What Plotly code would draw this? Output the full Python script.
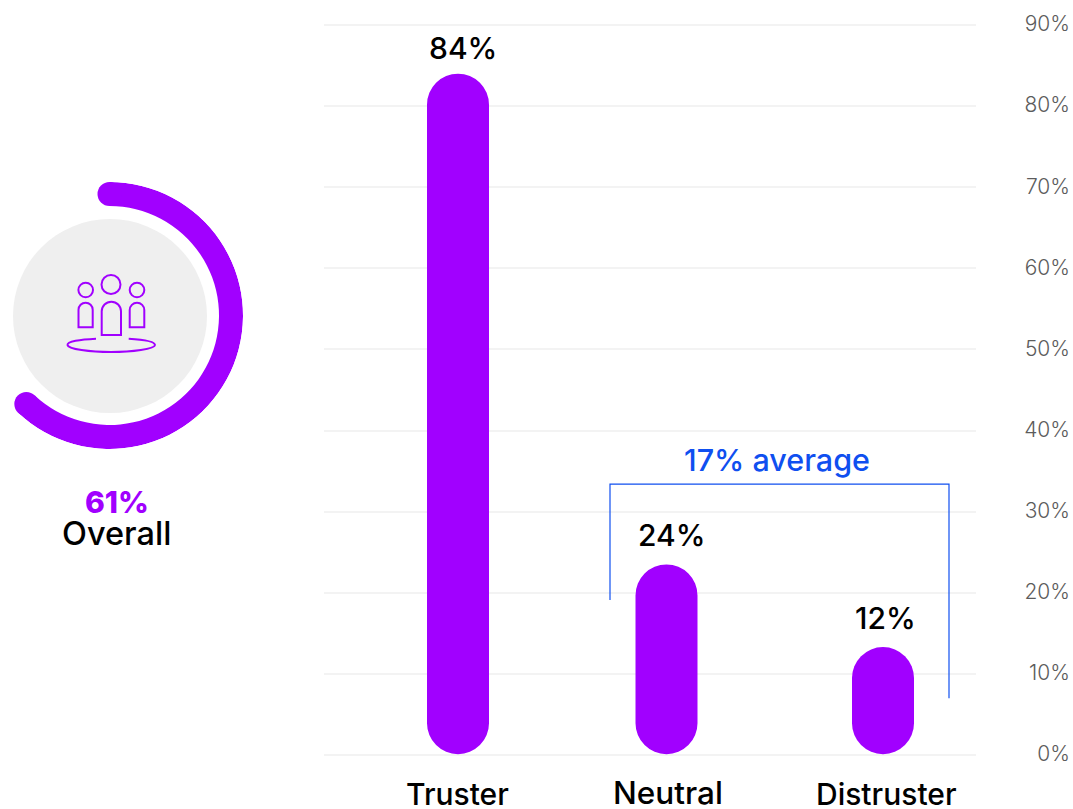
import math
import plotly.graph_objects as go

# ---- data ----
categories = ["Truster", "Neutral", "Distruster"]
bar_heights = [84, 23.5, 13.3]          # drawn heights
value_labels = ["84%", "24%", "12%"]
overall_arc_share = 62                  # drawn length of the arc
overall_label = "61%"
overall_name = "Overall"
average_label = "17% average"
y_ticks = [0, 10, 20, 30, 40, 50, 60, 70, 80, 90]
y_tick_labels = ["0%", "10%", "20%", "30%", "40%", "50%", "60%", "70%", "80%", "90%"]
bracket_y = [19.1, 33.4, 33.4, 7.0]

# ---- layout constants ----
W, H = 1073, 809
PURPLE = "#a100ff"
BLUE = "#0f4ff0"
FONT = "Inter"
bar_x = [458, 666.5, 883]
bracket_x = [610, 610, 949, 949]
X0, X1 = 324, 976
Y_BASE, Y_TOP = 755, 25
Y_PAD = 0.15                            # keeps the end gridlines inside the plot
PX_PER_UNIT = (Y_BASE - Y_TOP) / 90
CX, CY, R_OUT, R_IN = 109.5, 315.5, 133.5, 109.5
BAR_BASE = 0.1

fig = go.Figure()

# Pill bars: a bar off the zero line is rounded at both ends
fig.add_trace(go.Bar(
    x=bar_x, y=[v - BAR_BASE for v in bar_heights], base=[BAR_BASE] * len(bar_heights),
    width=62, marker=dict(color=PURPLE, line_width=0, cornerradius=31),
    hoverinfo="skip", showlegend=False))

# Bracket
fig.add_trace(go.Scatter(x=bracket_x, y=bracket_y, mode="lines",
                         line=dict(color=BLUE, width=1.2), hoverinfo="skip", showlegend=False))
# carrier for the right-hand labelled axis
fig.add_trace(go.Scatter(x=[X0], y=[0], yaxis="y2", mode="markers", marker_opacity=0,
                         hoverinfo="skip", showlegend=False))
# carrier for the pixel axes used by the decoration
fig.add_trace(go.Scatter(x=[0], y=[0], xaxis="x3", yaxis="y3", mode="markers", marker_opacity=0,
                         hoverinfo="skip", showlegend=False))

# Overall arc: a polar bar spanning the overall share of the circle
span = overall_arc_share / 100 * 360
fig.add_trace(go.Barpolar(
    theta=[span / 2], width=[span], base=[R_IN], r=[R_OUT - R_IN],
    marker=dict(color=PURPLE, line_width=0), hoverinfo="skip", showlegend=False))

shapes = []
def circle(cx, cy, r, **kw):
    shapes.append(dict(type="circle", xref="x3", yref="y3", x0=cx - r, x1=cx + r, y0=cy - r, y1=cy + r, **kw))

def outline(path):
    shapes.append(dict(type="path", xref="x3", yref="y3", path=path, layer="above",
                       line=dict(color=PURPLE, width=2)))

# Gray disc and round arc caps
circle(110, 316, 97, fillcolor="#efefef", line_width=0, layer="below")
mid_r = (R_IN + R_OUT) / 2
for a in (0, math.radians(span)):
    circle(CX + mid_r * math.sin(a), CY - mid_r * math.cos(a), (R_OUT - R_IN) / 2,
           fillcolor=PURPLE, line_width=0, layer="above")

# People icon
for cx, cy, r in [(111, 284.5, 9.5), (85.7, 290, 7.3), (137, 290, 7.3)]:
    circle(cx, cy, r, line=dict(color=PURPLE, width=2), layer="above")
for x0, x1, top, bottom in [(78.5, 92.7, 302.7, 327.3), (101.7, 121, 301.7, 335), (129.7, 144.3, 302.7, 327.3)]:
    mid = (x0 + x1) / 2
    k = (x1 - x0) / 2
    outline(f"M{x0},{bottom} L{x0},{top + k} C{x0},{top + k * .45} {mid - k * .55},{top} {mid},{top} "
            f"C{mid + k * .55},{top} {x1},{top + k * .45} {x1},{top + k} L{x1},{bottom} Z")
outline("M96,338.7 C80,339.5 67,341.5 67.5,345 C68,349 90,352 111,352 "
        "C132,352 155,349 155,345 C155,341.5 142,339.5 128.7,338.7")

annotations = []
def text(x, y, s, size=30, color="#000000", weight=550):
    annotations.append(dict(xref="x3", yref="y3", x=x, y=y, text=s, showarrow=False,
                            xanchor="center", yanchor="middle",
                            font=dict(family=FONT, size=size, color=color, weight=weight)))

for (x, y), s in zip([(463, 48), (672, 535), (885, 618)], value_labels):
    text(x, y, s)
for (x, y), s, size in zip([(457, 794), (668, 792), (886, 794)], categories, [30, 31.5, 30]):
    text(x, y, s, size=size)
text(117, 502, overall_label, color=PURPLE, weight=800)
text(116.5, 533, overall_name, size=32.5)
text(777, 459.5, average_label, size=30.5, color=BLUE, weight=550)

y_domain = [1 - (Y_BASE + Y_PAD * PX_PER_UNIT) / H, 1 - (Y_TOP - Y_PAD * PX_PER_UNIT) / H]
y_range = [-Y_PAD, 90 + Y_PAD]
sector_end = 90 - span
fig.update_layout(
    width=W, height=H, margin=dict(l=0, r=0, t=0, b=0, autoexpand=False),
    paper_bgcolor="white", plot_bgcolor="rgba(0,0,0,0)",
    barmode="overlay", showlegend=False, hovermode=False,
    xaxis=dict(domain=[X0 / W, X1 / W], range=[X0, X1], visible=False, fixedrange=True),
    yaxis=dict(domain=y_domain, range=y_range, tickvals=y_ticks, showticklabels=False,
               showgrid=True, gridcolor="#f3f3f3", gridwidth=1.5, zeroline=False, showline=False,
               ticks="", fixedrange=True),
    yaxis2=dict(domain=y_domain, range=y_range, overlaying="y", side="left", anchor="free",
                position=1070 / W, tickvals=y_ticks, ticktext=y_tick_labels, showgrid=False,
                zeroline=False, showline=False, ticks="", fixedrange=True, ticklabelshift=-1,
                tickfont=dict(family=FONT, size=21, color="#5c5c5c", weight=300)),
    xaxis3=dict(domain=[0, 1], range=[0, W], visible=False, fixedrange=True),
    yaxis3=dict(domain=[0, 1], range=[H, 0], visible=False, fixedrange=True),
    polar=dict(
        domain=dict(x=[(CX + math.cos(math.radians(sector_end)) * R_OUT) / W, (CX + R_OUT) / W],
                    y=[1 - (CY + R_OUT) / H, 1 - (CY - R_OUT) / H]),
        sector=[sector_end, 90], bgcolor="rgba(0,0,0,0)",
        radialaxis=dict(range=[0, R_OUT], visible=False),
        angularaxis=dict(rotation=90, direction="clockwise", visible=False),
    ),
    shapes=shapes, annotations=annotations,
)

fig.write_html("out.html", config={"displayModeBar": False},
               post_script="document.body.style.margin='0';")
